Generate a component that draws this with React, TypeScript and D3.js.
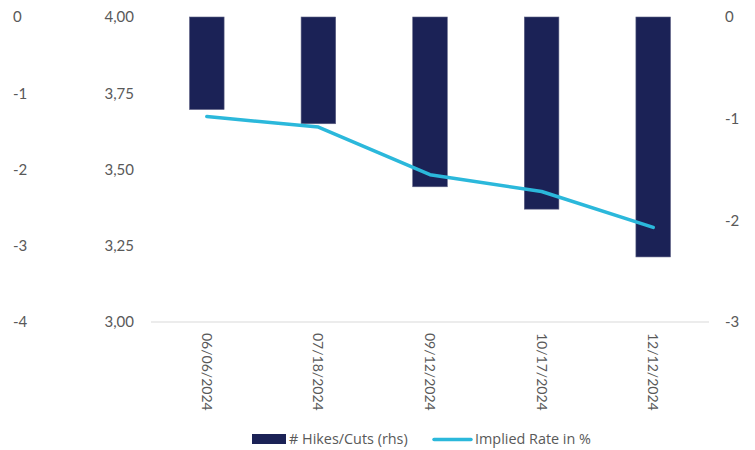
import React from "react";
import * as d3 from "d3";

// Meeting dates and market-implied path
const meetingDates = ["06/06/2024", "07/18/2024", "09/12/2024", "10/17/2024", "12/12/2024"];
const hikesCuts = [-0.91, -1.05, -1.67, -1.89, -2.36];
const impliedRate = [3.674, 3.639, 3.483, 3.428, 3.31];

const rateTicks = [3.0, 3.25, 3.5, 3.75, 4.0];
const rhsTicks = [-3, -2, -1, 0];
const outerTicks = [-4, -3, -2, -1, 0];

const W = 755;
const H = 450;
const plot = { left: 151, right: 709, top: 17, bottom: 322 };

const FONT = "Lato, 'Noto Sans', sans-serif";
const LEGEND_FONT = "'Open Sans', 'Noto Sans', sans-serif";
const TEXT = "#595959";
const BAR = "#1b2256";
const LINE = "#2bb8db";

export default function App() {
  const x = d3
    .scaleBand<string>()
    .domain(meetingDates)
    .range([plot.left, plot.right])
    .paddingInner(0.69)
    .paddingOuter(0.345);

  const yRate = d3.scaleLinear().domain([3, 4]).range([plot.bottom, plot.top]);
  const yRhs = d3.scaleLinear().domain([-3, 0]).range([plot.bottom, plot.top]);
  const yOuter = d3.scaleLinear().domain([-4, 0]).range([plot.bottom, plot.top]);

  const center = (d: string) => (x(d) ?? 0) + x.bandwidth() / 2;

  const linePath = d3
    .line<number>()
    .x((_, i) => center(meetingDates[i]))
    .y((v) => yRate(v))(impliedRate);

  const fmt = (v: number) => v.toFixed(2).replace(".", ",");

  return (
    <svg
      width={W}
      height={H}
      style={{ position: "absolute", left: 0, top: 0, background: "#fff" }}
      fontFamily={FONT}
    >
      {/* outer left scale */}
      {outerTicks.map((t) => (
        <text key={"o" + t} x={13} y={yOuter(t)} dy="0.35em" fontSize={15} fill={TEXT}>
          {t}
        </text>
      ))}

      {/* implied rate axis */}
      {rateTicks.map((t) => (
        <text
          key={"l" + t}
          x={134}
          y={yRate(t)}
          dy="0.35em"
          fontSize={15}
          fill={TEXT}
          textAnchor="end"
        >
          {fmt(t)}
        </text>
      ))}

      {/* hikes/cuts axis (rhs) */}
      {rhsTicks.map((t) => (
        <text key={"r" + t} x={725} y={yRhs(t)} dy="0.35em" fontSize={15} fill={TEXT}>
          {t}
        </text>
      ))}

      {/* baseline */}
      <line
        x1={plot.left}
        x2={plot.right}
        y1={plot.bottom}
        y2={plot.bottom}
        stroke="#d9d9d9"
        strokeWidth={1}
      />

      {/* bars */}
      {hikesCuts.map((v, i) => (
        <rect
          key={"b" + i}
          x={x(meetingDates[i])}
          y={yRhs(0)}
          width={x.bandwidth()}
          height={yRhs(v) - yRhs(0)}
          fill={BAR}
          stroke="#5d6184"
          strokeWidth={0.6}
        />
      ))}

      {/* implied rate line */}
      <path
        d={linePath ?? ""}
        fill="none"
        stroke={LINE}
        strokeWidth={3.5}
        strokeLinejoin="round"
        strokeLinecap="round"
      />

      {/* date labels */}
      {meetingDates.map((d) => (
        <text
          key={"x" + d}
          transform={`translate(${center(d)},333) rotate(90)`}
          dy="0.35em"
          fontSize={14}
          fill={TEXT}
        >
          {d}
        </text>
      ))}

      {/* legend */}
      <g fontFamily={LEGEND_FONT} fontSize={14.4} fill={TEXT}>
        <rect x={252} y={434} width={34} height={10} fill={BAR} />
        <text x={289} y={439} dy="0.35em">
          # Hikes/Cuts (rhs)
        </text>
        <line
          x1={434}
          x2={471}
          y1={439.5}
          y2={439.5}
          stroke={LINE}
          strokeWidth={3.5}
          strokeLinecap="round"
        />
        <text x={475} y={439} dy="0.35em">
          Implied Rate in %
        </text>
      </g>
    </svg>
  );
}
